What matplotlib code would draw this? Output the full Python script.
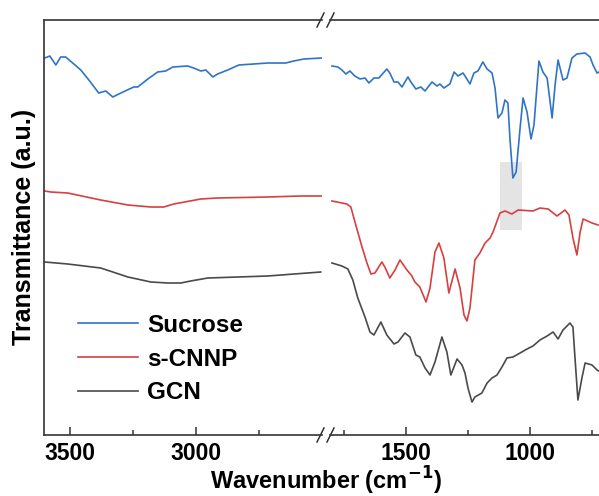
import matplotlib
matplotlib.use("Agg")
import matplotlib.pyplot as plt
from matplotlib.patches import Rectangle
from matplotlib.lines import Line2D

plt.rcParams['font.family'] = ['Liberation Sans', 'DejaVu Sans']
plt.rcParams['font.weight'] = 'bold'
plt.rcParams['mathtext.default'] = 'bf'

# FTIR spectra, high-wavenumber window (cm^-1) and transmittance (a.u.)
sucrose_wn_high = [3600, 3580, 3556, 3537, 3517, 3457, 3425, 3386, 3358, 3330, 3298, 3247, 3231,
                   3191, 3152, 3120, 3092, 3033, 3009, 2981, 2961, 2933, 2914, 2874, 2830, 2771,
                   2715, 2644, 2612, 2572, 2501]
sucrose_t_high = [377, 379, 370, 378, 378, 365, 355, 342, 344, 338, 342, 348, 348,
                  356, 363, 364, 368, 369, 367, 364, 365, 358, 361, 365, 370, 371,
                  372, 372, 374, 376, 377]

scnnp_wn_high = [3600, 3576, 3509, 3378, 3270, 3179, 3128, 3088, 2981, 2914, 2715, 2584, 2501]
scnnp_t_high = [244, 243, 242, 235, 230, 228, 228, 231, 236, 237, 238, 239, 239]

gcn_wn_high = [3600, 3509, 3378, 3270, 3179, 3112, 3060, 3021, 2953, 2715, 2505]
gcn_t_high = [173, 171, 167, 158, 153, 152, 152, 154, 157, 159, 163]

# Fingerprint window
sucrose_wn_low = [1798, 1774, 1758, 1742, 1726, 1706, 1685, 1665, 1649, 1629, 1609, 1577, 1565,
                  1548, 1532, 1516, 1492, 1480, 1460, 1440, 1423, 1395, 1375, 1363, 1347, 1323,
                  1306, 1290, 1270, 1262, 1242, 1226, 1210, 1190, 1173, 1153, 1141, 1129, 1113,
                  1101, 1089, 1081, 1069, 1056, 1040, 1028, 1012, 996, 984, 964, 948, 931, 911,
                  899, 887, 867, 851, 831, 811, 778, 758, 746, 730, 722]
sucrose_t_low = [369, 368, 365, 361, 364, 359, 356, 357, 352, 357, 357, 366, 362,
                 353, 353, 348, 358, 353, 346, 348, 344, 353, 349, 351, 347, 351,
                 363, 359, 362, 359, 351, 362, 364, 373, 366, 362, 347, 317, 322,
                 335, 332, 297, 257, 263, 307, 337, 323, 296, 310, 374, 363, 357, 317,
                 350, 375, 355, 357, 377, 381, 382, 378, 370, 362, 363]

scnnp_wn_low = [1798, 1758, 1738, 1722, 1702, 1677, 1657, 1641, 1625, 1597, 1585, 1565, 1544,
                1524, 1496, 1476, 1464, 1444, 1419, 1403, 1383, 1367, 1347, 1327, 1302, 1282,
                1266, 1254, 1242, 1222, 1202, 1181, 1161, 1149, 1121, 1101, 1073, 1048, 988,
                960, 927, 891, 859, 843, 827, 811, 798, 786, 750, 726]
scnnp_t_low = [234, 232, 231, 228, 210, 188, 172, 161, 162, 173, 168, 157, 165,
               175, 165, 159, 153, 148, 133, 147, 183, 192, 177, 142, 166, 147,
               120, 114, 127, 175, 182, 192, 197, 203, 222, 224, 221, 225, 224,
               227, 226, 219, 225, 220, 197, 180, 203, 216, 212, 210]

gcn_wn_low = [1798, 1758, 1734, 1714, 1694, 1665, 1645, 1629, 1601, 1577, 1548, 1532, 1504,
              1484, 1460, 1444, 1423, 1403, 1383, 1355, 1335, 1319, 1294, 1274, 1262, 1250,
              1234, 1222, 1194, 1173, 1153, 1133, 1113, 1093, 1069, 1040, 1012, 988, 960,
              931, 907, 887, 867, 839, 827, 819, 807, 790, 778, 750, 730, 722]
gcn_t_low = [172, 169, 166, 155, 137, 118, 103, 100, 113, 100, 91, 93, 102,
             98, 80, 78, 67, 60, 73, 98, 83, 60, 76, 70, 62, 47,
             33, 38, 42, 52, 57, 60, 68, 77, 78, 82, 86, 89, 95,
             99, 103, 96, 105, 112, 108, 78, 35, 58, 72, 70, 65, 64]

labels = ['Sucrose', 's-CNNP', 'GCN']
colors = ['#2f74c6', '#d6403f', '#4a4a4a']

# Highlighted band in the fingerprint region
band_wn = (1121, 1032)
band_t = (205, 273)

W, H = 599, 496
fig = plt.figure(figsize=(W / 100, H / 100), dpi=100)

def fx(px):
    return px / W

def fy(py):
    return 1 - py / H

top, bottom = 20, 435
axL = fig.add_axes([fx(44), fy(bottom), fx(322 - 44), (bottom - top) / H])
axR = fig.add_axes([fx(330), fy(bottom), fx(W - 330), (bottom - top) / H])

highs = [(sucrose_wn_high, sucrose_t_high), (scnnp_wn_high, scnnp_t_high), (gcn_wn_high, gcn_t_high)]
lows = [(sucrose_wn_low, sucrose_t_low), (scnnp_wn_low, scnnp_t_low), (gcn_wn_low, gcn_t_low)]

handles = []
for (wh, th), (wl, tl), lab, col in zip(highs, lows, labels, colors):
    h, = axL.plot(wh, th, color=col, lw=1.2, label=lab, solid_joinstyle='round')
    axR.plot(wl, tl, color=col, lw=1.2, solid_joinstyle='round')
    handles.append(h)

axR.add_patch(Rectangle((band_wn[1], band_t[0]), band_wn[0] - band_wn[1], band_t[1] - band_t[0],
                        facecolor='#e4e4e4', edgecolor='none', zorder=0))

axL.set_xlim(3603, 2500)
axR.set_xlim(1806, 722)
for ax in (axL, axR):
    ax.set_ylim(0, 415)
    ax.set_yticks([])
    for s in ax.spines.values():
        s.set_linewidth(1.2)
        s.set_color('#333333')
    ax.tick_params(axis='x', which='major', direction='in', length=6, width=1.1,
                   labelsize=16.5, pad=5, color='#333333')
    ax.tick_params(axis='x', which='minor', direction='in', length=3.5, width=1.1, color='#333333')
    for t in ax.get_xticklabels():
        t.set_fontweight('bold')

axL.spines['right'].set_visible(False)
axR.spines['left'].set_visible(False)
axR.spines['right'].set_visible(False)

axL.set_xticks([3500, 3000])
axL.set_xticks([3250, 2750], minor=True)
axR.set_xticks([1500, 1000])
axR.set_xticks([1750, 1250, 750], minor=True)

# Axis-break marks
for yb in (top, bottom):
    for x0 in (317, 327):
        fig.add_artist(Line2D([fx(x0), fx(x0 + 7)], [fy(yb + 7), fy(yb - 7)],
                              color='#333333', lw=1.1))

fig.text(fx(326), fy(481), 'Wavenumber (cm$^{-1}$)', ha='center', va='center',
         fontsize=17, fontweight='bold')
fig.text(fx(24), fy(227), 'Transmittance (a.u.)', ha='center', va='center',
         rotation=90, fontsize=18, fontweight='bold')

fig.legend(handles=handles, loc='center left', bbox_to_anchor=(fx(78), fy(359)),
           frameon=False, fontsize=17.5, handlelength=2.45, handletextpad=0.38,
           labelspacing=0.45, borderpad=0, borderaxespad=0)

fig.savefig('out.png', dpi=100)
